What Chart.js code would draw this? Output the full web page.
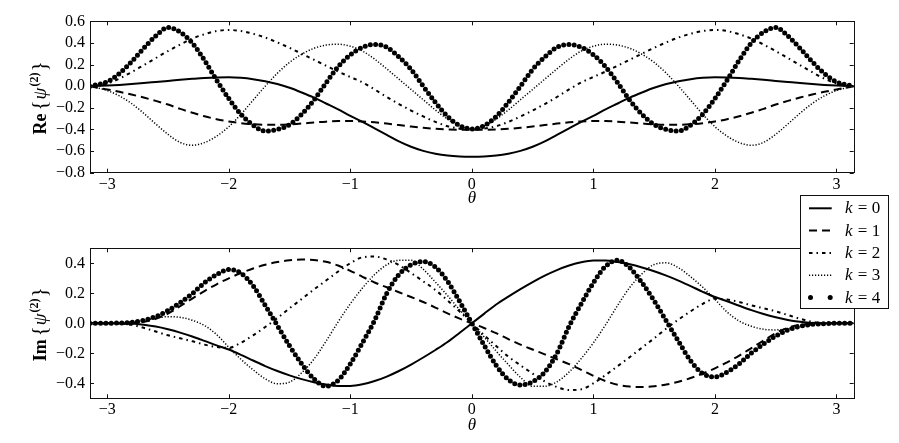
<!DOCTYPE html>
<html><head><meta charset="utf-8">
<script src="https://cdn.jsdelivr.net/npm/chart.js@4.4.1/dist/chart.umd.min.js"></script>
<style>
html,body{margin:0;padding:0;background:#fff;}
#wrap{position:relative;width:899px;height:443px;overflow:hidden;background:#fff;}
canvas{position:absolute;left:0;}
#c1{top:0;z-index:1;}
#c2{top:185px;z-index:2;}
</style></head>
<body><div id="wrap"><canvas id="c1" width="899" height="215"></canvas><canvas id="c2" width="899" height="258"></canvas></div>
<script>
// ---------- data ----------
const theta = [-3.1416,-3.1,-3.0,-2.9,-2.8,-2.7,-2.6,-2.5,-2.4,-2.3,-2.2,-2.1,-2.0,-1.9,-1.8,-1.7,-1.6,-1.5,-1.4,-1.3,-1.2,-1.1,-1.0,-0.9,-0.8,-0.7,-0.6,-0.5,-0.4,-0.3,-0.2,-0.1,0,
  0.1,0.2,0.3,0.4,0.5,0.6,0.7,0.8,0.9,1.0,1.1,1.2,1.3,1.4,1.5,1.6,1.7,1.8,1.9,2.0,2.1,2.2,2.3,2.4,2.5,2.6,2.7,2.8,2.9,3.0,3.1,3.1416];

const kValues = [0,1,2,3,4];

// Re{psi^(2)}
const reK0 = [0,0.002,0.006,0.012,0.02,0.029,0.039,0.049,0.059,0.068,0.076,0.081,0.082,0.077,0.065,0.046,0.02,-0.015,-0.058,-0.105,-0.16,-0.215,-0.275,-0.33,-0.39,-0.45,-0.51,-0.56,-0.598,-0.625,-0.642,-0.65,-0.652,
  -0.65,-0.642,-0.625,-0.598,-0.56,-0.51,-0.45,-0.39,-0.33,-0.275,-0.215,-0.16,-0.105,-0.058,-0.015,0.02,0.046,0.065,0.077,0.082,0.081,0.076,0.068,0.059,0.049,0.039,0.029,0.02,0.012,0.006,0.002,0];
const reK1 = [0,-0.01,-0.03,-0.052,-0.077,-0.105,-0.136,-0.17,-0.21,-0.245,-0.278,-0.305,-0.326,-0.342,-0.352,-0.357,-0.357,-0.353,-0.345,-0.336,-0.328,-0.323,-0.322,-0.326,-0.334,-0.346,-0.36,-0.373,-0.385,-0.394,-0.4,-0.403,-0.404,
  -0.403,-0.4,-0.394,-0.385,-0.373,-0.36,-0.346,-0.334,-0.326,-0.322,-0.323,-0.328,-0.336,-0.345,-0.353,-0.357,-0.357,-0.352,-0.342,-0.326,-0.305,-0.278,-0.245,-0.21,-0.17,-0.136,-0.105,-0.077,-0.052,-0.03,-0.01,0];
const reK2 = [0,0.005,0.025,0.07,0.13,0.195,0.26,0.325,0.385,0.44,0.48,0.51,0.52,0.51,0.485,0.45,0.405,0.355,0.3,0.245,0.19,0.135,0.085,0.035,-0.03,-0.1,-0.165,-0.225,-0.28,-0.33,-0.37,-0.393,-0.4,
  -0.393,-0.37,-0.33,-0.28,-0.225,-0.165,-0.1,-0.03,0.035,0.085,0.135,0.19,0.245,0.3,0.355,0.405,0.45,0.485,0.51,0.52,0.51,0.48,0.44,0.385,0.325,0.26,0.195,0.13,0.07,0.025,0.005,0];
const reK3 = [0,-0.01,-0.04,-0.09,-0.16,-0.25,-0.35,-0.445,-0.52,-0.546,-0.522,-0.462,-0.375,-0.26,-0.13,0.0,0.12,0.22,0.295,0.35,0.38,0.388,0.37,0.325,0.25,0.16,0.065,-0.03,-0.125,-0.22,-0.305,-0.37,-0.395,
  -0.37,-0.305,-0.22,-0.125,-0.03,0.065,0.16,0.25,0.325,0.37,0.388,0.38,0.35,0.295,0.22,0.12,0.0,-0.13,-0.26,-0.375,-0.462,-0.522,-0.546,-0.52,-0.445,-0.35,-0.25,-0.16,-0.09,-0.04,-0.01,0];
const reK4 = [0,0.01,0.04,0.117,0.226,0.35,0.465,0.543,0.5,0.4,0.24,0.056,-0.114,-0.26,-0.36,-0.415,-0.4,-0.355,-0.26,-0.13,0.03,0.18,0.29,0.36,0.386,0.36,0.27,0.155,0.0,-0.15,-0.28,-0.365,-0.395,
  -0.365,-0.28,-0.15,0.0,0.155,0.27,0.36,0.386,0.36,0.29,0.18,0.03,-0.13,-0.26,-0.355,-0.4,-0.415,-0.36,-0.26,-0.114,0.056,0.24,0.4,0.5,0.543,0.465,0.35,0.226,0.117,0.04,0.01,0];

// Im{psi^(2)}
const imK0 = [0,0,0,0,-0.002,-0.01,-0.022,-0.04,-0.062,-0.088,-0.117,-0.147,-0.175,-0.21,-0.248,-0.285,-0.318,-0.347,-0.372,-0.393,-0.408,-0.418,-0.418,-0.407,-0.385,-0.355,-0.318,-0.275,-0.228,-0.178,-0.125,-0.063,0,
  0.063,0.125,0.178,0.228,0.275,0.318,0.355,0.385,0.407,0.418,0.418,0.408,0.393,0.372,0.347,0.318,0.285,0.248,0.21,0.175,0.147,0.117,0.088,0.062,0.04,0.022,0.01,0.002,0,0,0,0];
const imK1 = [0,0,0,0,0.003,0.01,0.03,0.065,0.115,0.165,0.215,0.26,0.3,0.335,0.365,0.39,0.408,0.42,0.425,0.422,0.41,0.385,0.35,0.31,0.272,0.24,0.207,0.175,0.142,0.105,0.066,0.031,0,
  -0.031,-0.066,-0.105,-0.142,-0.175,-0.207,-0.24,-0.272,-0.31,-0.35,-0.385,-0.41,-0.422,-0.425,-0.42,-0.408,-0.39,-0.365,-0.335,-0.3,-0.26,-0.215,-0.165,-0.115,-0.065,-0.03,-0.01,-0.003,0,0,0,0];
const imK2 = [0,0,-0.001,-0.002,-0.01,-0.03,-0.055,-0.08,-0.1,-0.12,-0.142,-0.158,-0.163,-0.13,-0.08,-0.025,0.035,0.1,0.162,0.225,0.285,0.345,0.4,0.44,0.445,0.425,0.388,0.335,0.28,0.222,0.152,0.078,0,
  -0.078,-0.152,-0.222,-0.28,-0.335,-0.388,-0.425,-0.445,-0.44,-0.4,-0.345,-0.285,-0.225,-0.162,-0.1,-0.035,0.025,0.08,0.13,0.163,0.158,0.142,0.12,0.1,0.08,0.055,0.03,0.01,0.002,0.001,0,0];
const imK3 = [0,0,0.001,0.004,0.01,0.02,0.035,0.044,0.04,0.02,-0.015,-0.075,-0.16,-0.24,-0.31,-0.37,-0.403,-0.392,-0.33,-0.24,-0.12,0.01,0.13,0.235,0.325,0.39,0.42,0.42,0.36,0.275,0.185,0.09,0,
  -0.09,-0.185,-0.275,-0.36,-0.42,-0.42,-0.39,-0.325,-0.235,-0.13,-0.01,0.12,0.24,0.33,0.392,0.403,0.37,0.31,0.24,0.16,0.075,0.015,-0.02,-0.04,-0.044,-0.035,-0.02,-0.01,-0.004,-0.001,0,0];
const imK4 = [0,0,0,0.002,0.007,0.02,0.045,0.085,0.138,0.198,0.27,0.325,0.358,0.335,0.25,0.12,-0.015,-0.15,-0.27,-0.37,-0.42,-0.38,-0.27,-0.13,0.02,0.2,0.325,0.39,0.412,0.375,0.28,0.145,0,
  -0.145,-0.28,-0.375,-0.412,-0.39,-0.325,-0.2,-0.02,0.13,0.27,0.38,0.42,0.37,0.27,0.15,0.015,-0.12,-0.25,-0.335,-0.358,-0.325,-0.27,-0.198,-0.138,-0.085,-0.045,-0.02,-0.007,-0.002,0,0,0];

const xTickValues = [-3,-2,-1,0,1,2,3];
const reTickValues = [-0.8,-0.6,-0.4,-0.2,0,0.2,0.4,0.6];
const imTickValues = [-0.4,-0.2,0,0.2,0.4];

// ---------- styles ----------
const FONT = '"Liberation Serif", "Times New Roman", serif';
Chart.defaults.font.family = FONT;
Chart.defaults.color = '#000';

const lineStyles = [
  {borderWidth:2, borderDash:[], borderCapStyle:'butt'},
  {borderWidth:2, borderDash:[8,5], borderCapStyle:'butt'},
  {borderWidth:2, borderDash:[3.5,4,1.5,4], borderCapStyle:'butt'},
  {borderWidth:1.5, borderDash:[1.2,1.8], borderCapStyle:'butt'},
  {borderWidth:5, borderDash:[0,5.3], borderCapStyle:'round'}
];

function minusFmt(v, d){
  const s = Math.abs(v).toFixed(d);
  return (v < -1e-9 ? '\u2212' : '') + s;
}

function drawYLabel(ctx, word, bx, cy){
  const parts = [
    {t:word, f:'bold 18px '+FONT, dy:0, gap:3},
    {t:'{', f:'21px '+FONT, dy:0, gap:1},
    {t:'\u03C8', f:'italic 19px '+FONT, dy:0, gap:1},
    {t:'(2)', f:'bold 12px '+FONT, dy:-8, gap:1},
    {t:'}', f:'21px '+FONT, dy:0, gap:0}
  ];
  let total = 0;
  parts.forEach(p=>{ctx.font=p.f; p.w=ctx.measureText(p.t).width; total += p.w + p.gap;});
  ctx.save();
  ctx.translate(bx, cy);
  ctx.rotate(-Math.PI/2);
  ctx.fillStyle = '#000';
  ctx.textBaseline = 'alphabetic';
  ctx.textAlign = 'left';
  let x = -total/2;
  parts.forEach(p=>{ctx.font=p.f; ctx.fillText(p.t, x, p.dy); x += p.w + p.gap;});
  ctx.restore();
}

function framePlugin(cfg){
  return {
    id:'frame'+cfg.id,
    afterDatasetsDraw(chart){
      const ctx = chart.ctx, ca = chart.chartArea;
      const xs = chart.scales.x, ys = chart.scales.y;
      ctx.save();
      ctx.strokeStyle = '#111';
      ctx.lineWidth = 1;
      ctx.setLineDash([]);
      ctx.beginPath();
      xTickValues.forEach(v=>{
        const px = Math.round(xs.getPixelForValue(v)) + 0.5;
        ctx.moveTo(px, ca.bottom); ctx.lineTo(px, ca.bottom-4);
        ctx.moveTo(px, ca.top); ctx.lineTo(px, ca.top+4);
      });
      cfg.yTicks.forEach(v=>{
        const py = Math.round(ys.getPixelForValue(v)) + 0.5;
        ctx.moveTo(ca.left, py); ctx.lineTo(ca.left+4, py);
        ctx.moveTo(ca.right, py); ctx.lineTo(ca.right-4, py);
      });
      ctx.stroke();
      ctx.strokeRect(Math.round(ca.left)+0.5, Math.round(ca.top)+0.5, Math.round(ca.right-ca.left), Math.round(ca.bottom-ca.top));
      ctx.restore();
    },
    afterDraw(chart){
      const ctx = chart.ctx, ca = chart.chartArea;
      ctx.save();
      ctx.fillStyle = '#000';
      ctx.font = 'italic 17px '+FONT;
      ctx.textAlign = 'center';
      ctx.textBaseline = 'alphabetic';
      ctx.fillText('\u03B8', (ca.left+ca.right)/2, cfg.thetaY);
      ctx.restore();
      drawYLabel(ctx, cfg.yWord, 46, (ca.top+ca.bottom)/2 + 1);
      if (cfg.legend) {
        const L = cfg.legend;
        ctx.save();
        ctx.fillStyle = '#fff';
        ctx.fillRect(L.x, L.y, L.w, L.h);
        ctx.strokeStyle = '#111';
        ctx.lineWidth = 1;
        ctx.strokeRect(L.x+0.5, L.y+0.5, L.w, L.h);
        chart.data.datasets.forEach((ds,i)=>{
          const yy = L.y + L.first + i*L.step;
          if (i === 4) {
            ctx.fillStyle = '#000';
            [L.lx0+1.5, L.lx1-1.5].forEach(cx=>{ctx.beginPath(); ctx.arc(cx, yy, 2.5, 0, Math.PI*2); ctx.fill();});
          } else {
            ctx.strokeStyle = '#000';
            ctx.lineWidth = ds.borderWidth;
            ctx.lineCap = ds.borderCapStyle;
            ctx.setLineDash(ds.borderDash);
            ctx.beginPath(); ctx.moveTo(L.lx0, yy); ctx.lineTo(L.lx1, yy); ctx.stroke();
            ctx.setLineDash([]);
          }
          ctx.fillStyle = '#000';
          ctx.textBaseline = 'alphabetic';
          ctx.textAlign = 'left';
          ctx.font = 'italic 17px '+FONT;
          ctx.fillText('k', L.tx, yy+5);
          const kw = ctx.measureText('k').width;
          ctx.font = '17px '+FONT;
          ctx.fillText(' = '+kValues[i], L.tx + kw + 1, yy+5);
        });
        ctx.restore();
      }
    }
  };
}

function makeChart(canvasId, series, cfg){
  return new Chart(document.getElementById(canvasId), {
    type:'line',
    data:{
      datasets: series.map((arr,i)=>Object.assign({
        label:'k = '+kValues[i],
        data: theta.map((t,j)=>({x:t, y:arr[j]})),
        borderColor:'#000',
        backgroundColor:'#000',
        pointRadius:0,
        pointHoverRadius:0,
        fill:false,
        cubicInterpolationMode:'monotone'
      }, lineStyles[i]))
    },
    options:{
      responsive:false,
      devicePixelRatio:1,
      animation:false,
      events:[],
      layout:{padding:{left:0, right:45.3, top:cfg.top, bottom:0}},
      plugins:{legend:{display:false}, tooltip:{enabled:false}},
      scales:{
        x:{
          type:'linear', min:-Math.PI, max:Math.PI,
          grid:{display:false, drawTicks:false}, border:{display:false},
          afterBuildTicks:s=>{s.ticks = xTickValues.map(v=>({value:v}));},
          afterFit:s=>{s.height = cfg.xh;},
          ticks:{padding:2, autoSkip:false, maxRotation:0, color:'#000', font:{family:FONT, size:16}, callback:v=>minusFmt(v,0)}
        },
        y:{
          type:'linear', min:cfg.yMin, max:cfg.yMax,
          grid:{display:false, drawTicks:false}, border:{display:false},
          afterBuildTicks:s=>{s.ticks = cfg.yTicks.map(v=>({value:v}));},
          afterFit:s=>{s.width = 90;},
          ticks:{padding:5, autoSkip:false, color:'#000', font:{family:FONT, size:16}, callback:v=>minusFmt(v,1)}
        }
      }
    },
    plugins:[framePlugin(cfg)]
  });
}

makeChart('c1', [reK0,reK1,reK2,reK3,reK4], {
  id:1, top:21.3, xh:42.3, yMin:-0.8, yMax:0.6, yTicks:reTickValues, yWord:'Re', thetaY:203
});
makeChart('c2', [imK0,imK1,imK2,imK3,imK4], {
  id:2, top:63.3, xh:44.7, yMin:-0.5, yMax:0.5, yTicks:imTickValues, yWord:'Im', thetaY:245,
  legend:{x:800, y:10, w:88, h:113, first:13.3, step:22.3, lx0:809, lx1:831.7, tx:845}
});
</script>
</body></html>
